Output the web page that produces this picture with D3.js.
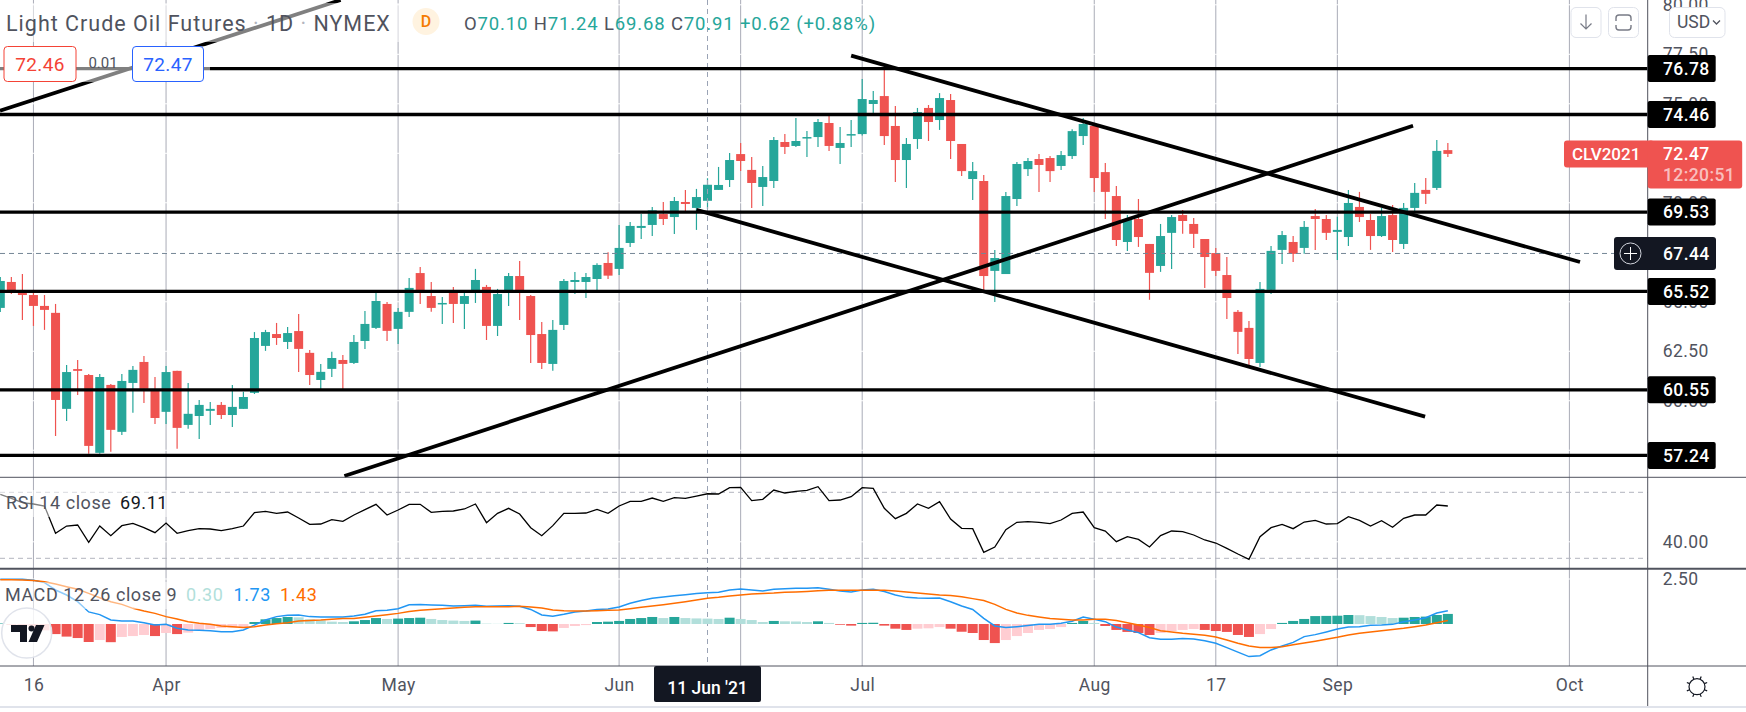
<!DOCTYPE html>
<html>
<head>
<meta charset="utf-8">
<script src="https://cdnjs.cloudflare.com/ajax/libs/d3/7.8.5/d3.min.js"></script>
<style>
  html, body { margin: 0; padding: 0; background: #fff; overflow: hidden; }
  text { font-family: Roboto, sans-serif; }
</style>
</head>
<body>
<svg id="chart" width="1746" height="712"></svg>
<script>
// daily candles
var opens = [64.69,66.00,65.53,65.34,64.79,64.44,59.59,61.60,61.30,57.37,60.80,58.43,60.90,61.96,60.55,59.44,61.51,58.78,59.23,59.49,59.79,59.28,59.59,60.40,62.77,63.37,62.97,63.52,62.42,61.05,61.61,62.06,61.91,63.02,63.68,64.89,63.63,64.49,66.45,65.29,64.89,65.50,64.89,65.55,65.75,63.78,65.55,66.30,65.29,63.37,61.86,63.83,66.00,66.00,66.15,66.96,66.66,67.97,68.73,68.88,69.43,69.28,70.04,69.74,70.10,70.65,71.15,72.46,71.66,70.80,71.10,73.07,72.87,73.27,73.32,74.03,72.77,73.42,73.47,74.99,75.39,73.88,72.16,73.22,74.79,74.18,75.19,72.97,71.20,71.10,66.56,66.40,70.19,71.70,72.21,72.26,71.86,72.36,73.37,73.88,71.55,70.34,68.02,69.18,67.92,66.81,68.48,69.38,68.93,68.17,67.46,66.35,64.49,63.68,61.91,65.60,67.62,68.02,67.72,69.33,69.18,68.53,68.27,69.79,69.13,68.32,69.38,67.92,69.74,70.65,70.75,72.66];
var highs = [66.25,66.25,66.40,65.60,65.34,64.89,61.81,62.06,61.35,61.35,60.85,61.35,61.76,62.26,61.20,61.76,61.51,60.90,60.04,59.94,59.94,60.80,60.45,63.47,63.58,63.93,63.73,64.38,62.57,61.86,62.47,62.31,63.32,64.54,65.50,64.99,64.69,66.20,66.76,66.00,65.24,65.75,65.46,66.66,65.85,65.65,66.45,67.06,65.34,63.98,64.08,66.15,66.50,66.45,66.94,67.50,68.88,69.03,69.43,69.79,70.04,70.29,70.65,70.70,71.24,71.81,72.51,73.02,72.31,71.86,73.32,73.47,74.28,73.62,74.23,74.38,73.83,74.18,76.25,75.64,76.72,74.89,73.27,74.79,74.94,75.54,75.49,72.97,72.06,71.40,67.62,70.55,72.06,72.26,72.46,72.36,72.61,73.72,74.28,74.00,72.01,70.85,69.38,70.19,67.92,68.93,69.38,69.64,69.23,68.17,67.72,67.26,64.59,64.03,66.00,67.82,68.58,68.32,69.08,69.69,69.38,69.30,70.65,70.55,69.43,69.74,69.89,69.99,71.00,71.25,73.17,73.02];
var lows = [64.48,65.39,64.08,63.78,63.58,58.22,58.98,60.29,57.32,57.32,57.42,58.27,59.39,59.89,58.83,58.83,57.57,58.58,58.07,58.78,59.08,58.68,59.59,60.34,62.52,62.82,62.62,61.45,60.80,60.55,61.20,60.60,61.86,62.62,63.63,63.02,62.87,64.23,64.89,64.49,63.88,63.93,63.63,64.94,63.07,63.27,64.79,64.08,61.91,61.61,61.51,63.58,65.39,65.19,65.60,66.15,66.35,67.77,68.17,68.32,68.88,68.42,69.58,68.63,69.68,70.65,70.80,71.61,69.74,69.84,70.75,72.46,72.82,72.31,72.82,72.62,71.96,72.82,73.40,74.53,72.92,71.05,70.75,72.72,73.12,73.68,72.21,71.35,70.14,65.60,64.99,66.40,69.84,71.35,70.55,71.05,71.66,72.21,72.92,70.55,69.18,67.82,67.57,67.77,65.10,66.51,66.66,68.43,67.72,65.70,66.30,64.13,62.36,61.81,61.71,65.39,66.91,67.01,67.42,67.62,68.12,67.11,67.82,69.03,67.62,68.27,67.52,67.67,69.59,69.94,70.65,72.31];
var closes = [66.05,65.48,65.34,64.79,64.59,60.04,61.45,61.51,57.72,61.20,58.53,61.00,61.56,60.60,59.13,61.45,58.63,59.34,59.79,59.59,59.28,59.69,60.19,63.17,63.47,63.17,63.42,62.62,61.30,61.46,62.16,61.86,62.97,63.88,65.04,63.53,64.49,65.70,65.55,64.69,64.94,64.89,65.29,66.10,63.78,65.39,66.30,65.55,63.32,61.91,63.58,66.05,66.10,66.25,66.86,66.32,67.72,68.83,68.83,69.62,69.18,70.09,69.94,70.29,70.91,70.90,72.16,72.11,71.00,71.30,73.17,72.82,73.12,73.32,74.08,72.87,73.02,73.47,75.24,75.19,73.37,72.16,72.97,74.58,74.08,75.29,73.12,71.60,71.60,66.30,67.21,70.34,71.96,72.11,71.91,71.60,72.41,73.62,73.98,71.25,70.55,68.12,69.13,68.27,66.46,68.32,69.28,69.08,68.43,67.26,66.56,65.19,63.48,62.11,65.65,67.57,68.37,67.42,68.78,69.18,68.48,68.63,69.99,69.28,68.32,69.33,68.12,69.74,70.50,70.45,72.62,72.47];

var rsiValues = [68.76,66.34,63.71,62.90,61.69,45.13,49.57,50.18,39.68,49.57,43.72,49.78,51.19,48.56,45.53,51.39,45.13,46.75,47.96,47.76,46.75,47.96,49.57,57.65,58.46,57.25,58.06,54.42,50.58,50.78,53.41,52.40,56.24,59.47,62.70,56.24,59.27,62.70,62.70,57.86,58.46,58.66,59.88,62.90,51.59,57.25,60.28,56.85,48.56,43.72,49.78,57.25,57.25,57.45,59.67,57.25,61.69,64.52,64.52,66.54,64.52,66.74,66.34,67.75,69.11,68.97,72.80,73.00,64.93,65.73,71.39,69.57,70.58,71.19,73.41,64.93,65.33,67.35,72.80,72.40,60.28,54.02,57.25,62.90,60.28,64.32,53.82,48.16,47.96,33.62,36.85,47.35,51.80,52.20,51.80,50.99,53.21,57.25,58.06,48.56,46.54,40.08,43.11,41.49,36.85,43.72,46.54,46.14,44.12,41.09,39.27,36.04,32.61,29.37,43.11,48.56,50.58,47.96,52.00,53.01,50.79,50.99,55.23,53.01,49.57,52.81,48.77,54.22,56.24,56.24,62.30,61.69];

var macdValues = [2.48,2.48,2.48,2.43,2.30,1.89,1.61,1.24,0.67,0.52,0.22,0.17,0.17,0.07,-0.06,-0.02,-0.24,-0.33,-0.35,-0.37,-0.43,-0.43,-0.33,-0.06,0.22,0.41,0.48,0.50,0.41,0.39,0.39,0.39,0.44,0.54,0.74,0.76,0.85,1.07,1.09,1.06,1.04,1.00,1.02,1.04,0.98,1.00,1.02,0.98,0.81,0.50,0.43,0.54,0.67,0.72,0.81,0.83,0.94,1.15,1.30,1.43,1.50,1.57,1.63,1.69,1.73,1.76,1.89,1.94,1.89,1.83,1.93,1.96,1.98,1.98,2.02,1.93,1.83,1.78,1.89,1.93,1.80,1.61,1.48,1.44,1.43,1.44,1.24,1.00,0.81,0.31,-0.11,-0.20,-0.15,-0.09,-0.02,-0.02,0.04,0.15,0.39,0.26,0.13,-0.17,-0.33,-0.48,-0.76,-0.85,-0.85,-0.81,-0.83,-0.93,-1.07,-1.31,-1.56,-1.81,-1.76,-1.44,-1.22,-1.02,-0.70,-0.59,-0.44,-0.28,-0.17,-0.15,-0.07,-0.06,-0.02,0.13,0.22,0.35,0.61,0.74];
var signalValues = [2.46,2.46,2.44,2.41,2.35,2.22,2.07,1.93,1.70,1.46,1.24,1.09,0.87,0.72,0.59,0.41,0.28,0.13,0.04,-0.02,-0.11,-0.15,-0.19,-0.15,-0.06,0.02,0.07,0.17,0.20,0.22,0.26,0.30,0.31,0.37,0.44,0.52,0.59,0.69,0.76,0.81,0.85,0.89,0.93,0.96,0.96,0.96,0.96,0.98,0.94,0.89,0.78,0.74,0.72,0.72,0.74,0.76,0.78,0.85,0.93,1.00,1.07,1.15,1.24,1.33,1.43,1.48,1.56,1.61,1.67,1.70,1.72,1.76,1.78,1.81,1.85,1.87,1.87,1.87,1.87,1.87,1.87,1.83,1.78,1.72,1.67,1.61,1.59,1.52,1.41,1.30,1.09,0.81,0.61,0.48,0.39,0.31,0.26,0.22,0.22,0.26,0.26,0.19,0.07,-0.06,-0.20,-0.37,-0.44,-0.52,-0.57,-0.63,-0.72,-0.89,-1.07,-1.22,-1.30,-1.31,-1.26,-1.15,-1.06,-0.96,-0.85,-0.74,-0.61,-0.52,-0.44,-0.37,-0.31,-0.24,-0.15,-0.06,0.07,0.20];
var histValues = [0.03,-0.05,-0.12,-0.25,-0.35,-0.56,-0.70,-0.78,-1.00,-0.89,-1.01,-0.72,-0.67,-0.61,-0.67,-0.50,-0.56,-0.48,-0.33,-0.28,-0.22,-0.20,-0.17,0.11,0.26,0.33,0.39,0.37,0.26,0.20,0.13,0.11,0.15,0.22,0.33,0.28,0.30,0.33,0.35,0.28,0.22,0.19,0.17,0.19,0.02,0.01,0.06,0.04,-0.17,-0.39,-0.41,-0.22,-0.11,-0.06,0.11,0.13,0.17,0.28,0.33,0.39,0.33,0.39,0.33,0.31,0.30,0.28,0.35,0.28,0.22,0.11,0.17,0.15,0.14,0.11,0.15,0.06,-0.04,-0.09,0.06,0.07,-0.09,-0.26,-0.33,-0.26,-0.24,-0.17,-0.26,-0.43,-0.50,-0.89,-1.06,-0.89,-0.67,-0.50,-0.33,-0.28,-0.17,0.06,0.17,0.06,-0.11,-0.33,-0.44,-0.50,-0.61,-0.50,-0.39,-0.33,-0.28,-0.33,-0.39,-0.44,-0.61,-0.72,-0.56,-0.28,0.06,0.17,0.28,0.44,0.45,0.46,0.50,0.49,0.44,0.39,0.33,0.35,0.39,0.41,0.50,0.56];

var levels = [76.78, 74.46, 69.53, 65.52, 60.55, 57.24];
var trendLines = [
  [[31.14, 56.20], [127.85, 73.89]],
  [[-0.03, 74.65], [30.8, 80.24]],
  [[77.0, 77.43], [142.96, 67.01]],
  [[63.0, 69.64], [128.94, 59.20]]
];
var priceGrid = [80, 77.5, 75, 72.5, 70, 67.5, 65, 62.5, 60, 57.5];
var priceTicks = [80, 77.5, 75, 70, 65, 62.5, 60];
var rsiTicks = [40];
var macdTicks = [2.5];
var rsiBands = [70, 30];
var timeTickIdx = [3, 15, 36, 56, 67, 78, 99, 110, 121, 142];
var timeTickLabels = ["16", "Apr", "May", "Jun", "17", "Jul", "Aug", "17", "Sep", "Oct"];
var crossIdx = 64;
var crossPrice = 67.44;
var lastPrice = 72.47;

var paneRight = 1647.7, width = 1746;
var mainBottom = 477.3, rsiBottom = 568.7, macdBottom = 666, timeBottom = 706;
var textColor = "#50535e", up = "#26a69a", down = "#ef5350";
var fontPx = 17.5;

var svg = d3.select("#chart");

var x = d3.scaleLinear().domain([0, 149]).range([0.3, 0.3 + 11.05 * 149]);
var y = d3.scaleLinear().domain([80, 57.24]).range([4.8, 455.4]);
var rsiY = d3.scaleLinear().domain([70, 30]).range([492.3, 558.3]);
var macdY = d3.scaleLinear().domain([2.5, 0]).range([579, 624]);

var bodyW = 9, histW = 10;
var indices = d3.range(closes.length);

// vertical grid, then the white horizontal grid that cuts it
var grid = svg.append("g");
grid.selectAll("line.v").data(timeTickIdx).join("line")
  .attr("x1", d => x(d)).attr("x2", d => x(d))
  .attr("y1", 0).attr("y2", macdBottom)
  .attr("stroke", "#a9acb7").attr("stroke-width", 1);
grid.selectAll("line.hp").data(priceGrid).join("line").attr("class", "hp")
  .attr("x1", 0).attr("x2", paneRight).attr("y1", d => y(d)).attr("y2", d => y(d))
  .attr("stroke", "#fff").attr("stroke-width", 1);
grid.append("line").attr("x1", 0).attr("x2", paneRight)
  .attr("y1", rsiY(40)).attr("y2", rsiY(40)).attr("stroke", "#fff");
grid.append("line").attr("x1", 0).attr("x2", paneRight)
  .attr("y1", macdY(2.5)).attr("y2", macdY(2.5)).attr("stroke", "#fff");

// candles
var candles = svg.append("g");
candles.selectAll("line").data(indices).join("line")
  .attr("x1", i => x(i)).attr("x2", i => x(i))
  .attr("y1", i => y(highs[i])).attr("y2", i => y(lows[i]))
  .attr("stroke", i => closes[i] >= opens[i] ? up : down)
  .attr("stroke-width", 1.2);
candles.selectAll("rect").data(indices).join("rect")
  .attr("x", i => x(i) - bodyW / 2)
  .attr("width", bodyW)
  .attr("y", i => y(Math.max(opens[i], closes[i])))
  .attr("height", i => Math.max(1.5, Math.abs(y(opens[i]) - y(closes[i]))))
  .attr("fill", i => closes[i] >= opens[i] ? up : down);

// crosshair
svg.append("line").attr("x1", 0).attr("x2", 1614)
  .attr("y1", y(crossPrice)).attr("y2", y(crossPrice))
  .attr("stroke", "#758696").attr("stroke-dasharray", "5 4");
svg.append("line").attr("x1", x(crossIdx)).attr("x2", x(crossIdx))
  .attr("y1", 0).attr("y2", macdBottom)
  .attr("stroke", "#9aa3b5").attr("stroke-dasharray", "5 4");

// drawings
svg.append("g").selectAll("line").data(levels).join("line")
  .attr("x1", 0).attr("x2", paneRight)
  .attr("y1", d => y(d)).attr("y2", d => y(d))
  .attr("stroke", "#000").attr("stroke-width", 3.3);
svg.append("g").selectAll("line").data(trendLines).join("line")
  .attr("x1", d => x(d[0][0])).attr("y1", d => y(d[0][1]))
  .attr("x2", d => x(d[1][0])).attr("y2", d => y(d[1][1]))
  .attr("stroke", "#000").attr("stroke-width", 3.8);

// RSI pane
svg.append("g").selectAll("line").data(rsiBands).join("line")
  .attr("x1", 0).attr("x2", paneRight)
  .attr("y1", d => rsiY(d)).attr("y2", d => rsiY(d))
  .attr("stroke", "#b2b5be").attr("stroke-dasharray", "5 4");
svg.append("path").datum(rsiValues)
  .attr("fill", "none").attr("stroke", "#000").attr("stroke-width", 1.3)
  .attr("d", d3.line().x((d, i) => x(i)).y(d => rsiY(d)));

// MACD pane
function histColor(i) {
  var h = histValues[i], prev = i > 0 ? histValues[i - 1] : 0;
  if (h >= 0) return h > prev ? up : "#b2dfdb";
  return h < prev ? down : "#ffcdd2";
}
svg.append("g").selectAll("rect").data(indices).join("rect")
  .attr("x", i => x(i) - histW / 2)
  .attr("width", histW)
  .attr("y", i => Math.min(macdY(0), macdY(histValues[i])))
  .attr("height", i => Math.abs(macdY(histValues[i]) - macdY(0)))
  .attr("fill", histColor);
var macdLinePath = d3.line().x((d, i) => x(i)).y(d => macdY(d));
svg.append("path").datum(macdValues)
  .attr("fill", "none").attr("stroke", "#2196f3").attr("stroke-width", 1.5).attr("d", macdLinePath);
svg.append("path").datum(signalValues)
  .attr("fill", "none").attr("stroke", "#ff6d00").attr("stroke-width", 1.5).attr("d", macdLinePath);

// washes behind the legends
var wash = [[0, 3, 402, 39], [0, 46, 210, 36], [0, 490, 172, 27], [0, 582, 325, 27]];
svg.append("g").selectAll("rect").data(wash).join("rect")
  .attr("x", d => d[0]).attr("y", d => d[1]).attr("width", d => d[2]).attr("height", d => d[3])
  .attr("fill", "#fff").attr("opacity", 0.5);

// pane borders
var borders = [[mainBottom, 1], [rsiBottom, 2], [macdBottom, 1]];
svg.append("g").selectAll("line").data(borders).join("line")
  .attr("x1", 0).attr("x2", width).attr("y1", d => d[0]).attr("y2", d => d[0])
  .attr("stroke", textColor).attr("stroke-width", d => d[1]);
svg.append("line").attr("x1", paneRight).attr("x2", paneRight).attr("y1", 0).attr("y2", timeBottom)
  .attr("stroke", textColor);
svg.append("rect").attr("x", 0).attr("y", timeBottom).attr("width", width).attr("height", 2).attr("fill", "#e0e3eb");

// axes
function styleAxis(g) {
  g.select(".domain").remove();
  g.selectAll("text").attr("fill", textColor).attr("font-size", fontPx).attr("letter-spacing", "0.4px");
}
var fmt = d3.format(".2f");
svg.append("g").attr("transform", "translate(" + paneRight + ",0)")
  .call(d3.axisRight(y).tickValues(priceTicks).tickFormat(fmt).tickSize(0).tickPadding(15)).call(styleAxis);
svg.append("g").attr("transform", "translate(" + paneRight + ",0)")
  .call(d3.axisRight(rsiY).tickValues(rsiTicks).tickFormat(fmt).tickSize(0).tickPadding(15)).call(styleAxis);
svg.append("g").attr("transform", "translate(" + paneRight + ",0)")
  .call(d3.axisRight(macdY).tickValues(macdTicks).tickFormat(fmt).tickSize(0).tickPadding(15)).call(styleAxis);
svg.append("g").attr("transform", "translate(0," + macdBottom + ")")
  .call(d3.axisBottom(x).tickValues(timeTickIdx).tickFormat((d, i) => timeTickLabels[i]).tickSize(0).tickPadding(13))
  .call(styleAxis);

// crosshair time label
svg.append("rect").attr("x", x(crossIdx) - 53.5).attr("y", macdBottom).attr("width", 107).attr("height", 36)
  .attr("rx", 2).attr("fill", "#131722");
svg.append("text").attr("x", x(crossIdx)).attr("y", 688).attr("dy", "0.35em").attr("text-anchor", "middle")
  .attr("fill", "#fff").attr("font-size", fontPx).attr("font-weight", 500).text("11 Jun '21");

// level labels on the price axis
var levelLabels = svg.append("g").selectAll("g").data(levels).join("g");
levelLabels.append("rect")
  .attr("x", paneRight).attr("width", 68).attr("y", d => y(d) - 13.5).attr("height", 27)
  .attr("rx", 2).attr("fill", "#000");
levelLabels.append("text")
  .attr("x", 1663).attr("y", d => y(d)).attr("dy", "0.36em")
  .attr("fill", "#fff").attr("font-size", fontPx).attr("font-weight", 500).attr("letter-spacing", "0.4px")
  .text(d => fmt(d));

// last price label
svg.append("rect").attr("x", 1564).attr("y", y(lastPrice) - 13.5).attr("width", 90).attr("height", 27)
  .attr("rx", 3).attr("fill", down);
svg.append("rect").attr("x", paneRight).attr("y", y(lastPrice) - 13.5).attr("width", 94.5).attr("height", 48)
  .attr("rx", 3).attr("fill", down);
svg.append("text").attr("x", 1572).attr("y", y(lastPrice)).attr("dy", "0.36em")
  .attr("fill", "#fff").attr("font-size", 17).attr("font-weight", 500).text("CLV2021");
svg.append("text").attr("x", 1663).attr("y", y(lastPrice)).attr("dy", "0.36em")
  .attr("fill", "#fff").attr("font-size", fontPx).attr("font-weight", 500).attr("letter-spacing", "0.4px").text(fmt(lastPrice));
svg.append("text").attr("x", 1663).attr("y", y(lastPrice) + 21).attr("dy", "0.36em")
  .attr("fill", "#fff").attr("fill-opacity", 0.65).attr("font-size", fontPx).attr("font-weight", 500).attr("letter-spacing", "0.4px").text("12:20:51");

// crosshair price label
svg.append("rect").attr("x", 1614).attr("y", y(crossPrice) - 16.5).attr("width", 102).attr("height", 33)
  .attr("rx", 3).attr("fill", "#131722");
svg.append("circle").attr("cx", 1630.5).attr("cy", y(crossPrice)).attr("r", 10.5)
  .attr("fill", "none").attr("stroke", "#d1d4dc");
svg.append("path").attr("d", "M1624 253.5H1637M1630.5 247V260").attr("stroke", "#fff").attr("fill", "none");
svg.append("text").attr("x", 1663).attr("y", y(crossPrice)).attr("dy", "0.36em")
  .attr("fill", "#fff").attr("font-size", fontPx).attr("font-weight", 500).attr("letter-spacing", "0.4px").text(fmt(crossPrice));

// top buttons
function button(bx, bw) {
  svg.append("rect").attr("x", bx).attr("y", 7.5).attr("width", bw).attr("height", 30).attr("rx", 5)
    .attr("fill", "#fff").attr("stroke", "#e0e3eb");
}
button(1571, 30);
svg.append("path").attr("d", "M1586 14.5V29M1580.5 23.5L1586 29L1591.5 23.5")
  .attr("fill", "none").attr("stroke", "#787b86").attr("stroke-width", 1.2);
button(1608.5, 30);
svg.append("path").attr("d", "M1616 21V18Q1616 15 1619 15H1628Q1631 15 1631 18V21M1616 25V27Q1616 30 1619 30H1628Q1631 30 1631 27V25")
  .attr("fill", "none").attr("stroke", "#787b86").attr("stroke-width", 1.4);
button(1669.5, 55.5);
svg.append("text").attr("x", 1677).attr("y", 22).attr("dy", "0.36em")
  .attr("fill", textColor).attr("font-size", fontPx).text("USD");
svg.append("path").attr("d", "M1713 20.5L1716.5 24L1720 20.5")
  .attr("fill", "none").attr("stroke", textColor).attr("stroke-width", 1.3);

// top legend
var titleText = svg.append("text").attr("x", 6).attr("y", 23).attr("dy", "0.36em")
  .attr("font-size", 21.5).attr("letter-spacing", "1px");
[["Light Crude Oil Futures ", textColor], ["\u00b7", "#b2b5be"], [" 1D ", textColor], ["\u00b7", "#b2b5be"], [" NYMEX", textColor]]
  .forEach(function(p) {
    titleText.append("tspan").attr("fill", p[1]).attr("xml:space", "preserve").text(p[0]);
  });
svg.append("circle").attr("cx", 426).attr("cy", 21.5).attr("r", 13.5).attr("fill", "#fff3e0");
svg.append("text").attr("x", 426).attr("y", 21.5).attr("dy", "0.36em").attr("text-anchor", "middle")
  .attr("fill", "#f57c00").attr("font-size", 16).attr("font-weight", 500).text("D");

var ohlc = svg.append("text").attr("x", 464).attr("y", 23).attr("dy", "0.36em")
  .attr("font-size", 18.5).attr("letter-spacing", "0.85px");
[["O", textColor], ["70.10 ", up], ["H", textColor], ["71.24 ", up], ["L", textColor], ["69.68 ", up],
 ["C", textColor], ["70.91 ", up], ["+0.62 (+0.88%)", up]].forEach(function(p) {
  ohlc.append("tspan").attr("fill", p[1]).attr("xml:space", "preserve").text(p[0]);
});

// buy / sell boxes
function priceBox(bx, bw, color, label) {
  svg.append("rect").attr("x", bx).attr("y", 46.5).attr("width", bw).attr("height", 35).attr("rx", 3.5)
    .attr("fill", "#fff").attr("stroke", color);
  svg.append("text").attr("x", bx + bw / 2).attr("y", 64).attr("dy", "0.36em").attr("text-anchor", "middle")
    .attr("fill", color).attr("font-size", 19).attr("letter-spacing", "0.4px").text(label);
}
priceBox(4, 72, "#f44336", "72.46");
priceBox(132.5, 71, "#2962ff", "72.47");
svg.append("text").attr("x", 103).attr("y", 63).attr("dy", "0.36em").attr("text-anchor", "middle")
  .attr("fill", textColor).attr("font-size", 15).text("0.01");

// indicator legends
var legendRows = [
  ["RSI 14 close", 6, 502.7, textColor],
  ["69.11", 120, 502.7, "#131722"],
  ["MACD 12 26 close 9", 5, 595, textColor],
  ["0.30", 186, 595, "#b2dfdb"],
  ["1.73", 233.5, 595, "#2196f3"],
  ["1.43", 280, 595, "#ff6d00"]
];
svg.append("g").selectAll("text").data(legendRows).join("text")
  .attr("x", d => d[1]).attr("y", d => d[2]).attr("dy", "0.36em")
  .attr("fill", d => d[3]).attr("font-size", 18).attr("letter-spacing", "0.55px")
  .text(d => d[0]);

// chart logo
var logo = svg.append("g");
logo.append("circle").attr("cx", 26.7).attr("cy", 633).attr("r", 25)
  .attr("fill", "#fff").attr("fill-opacity", 0.85).attr("stroke", "#e0e3eb").attr("stroke-width", 1.5);
logo.append("path").attr("fill", "#131722")
  .attr("d", "M11 625H27V642H20V632H11Z M36 625H44.5L37 642H28.5Z");
logo.append("circle").attr("cx", 31.5).attr("cy", 628.5).attr("r", 3).attr("fill", "#131722");

// theme icon
var sun = svg.append("g").attr("fill", "none").attr("stroke", "#131722").attr("stroke-width", 1.2);
sun.append("circle").attr("cx", 1697).attr("cy", 686.7).attr("r", 8);
d3.range(8).forEach(function(k) {
  var a = k * Math.PI / 4 + Math.PI / 8;
  sun.append("line")
    .attr("x1", 1697 + 8 * Math.cos(a)).attr("y1", 686.7 + 8 * Math.sin(a))
    .attr("x2", 1697 + 11 * Math.cos(a)).attr("y2", 686.7 + 11 * Math.sin(a));
});
</script>
</body>
</html>
